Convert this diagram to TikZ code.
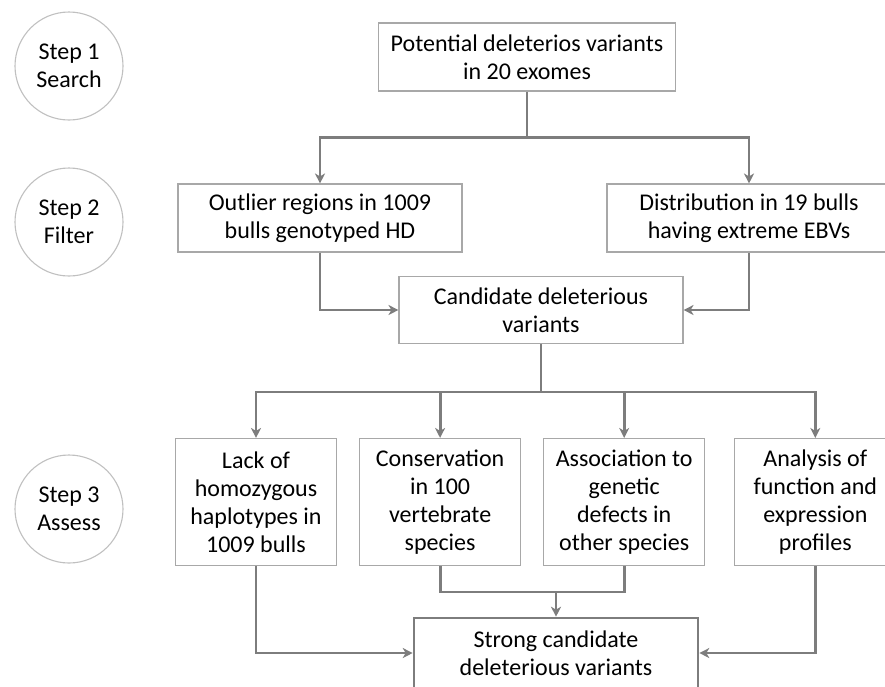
\documentclass[tikz,border=0pt]{standalone}
\usepackage{fontspec}
\setmainfont{Carlito}
\usetikzlibrary{arrows.meta,positioning}
\definecolor{linegray}{HTML}{7D7D7D}
\definecolor{boxgray}{HTML}{A8A8A8}
\definecolor{ringgray}{HTML}{C0C0C0}
\tikzset{
    flowline/.style = {draw=linegray, line width=2.8pt},
    flowarrow/.style = {flowline, -{Stealth[length=10pt, width=10pt, inset=3pt]}},
    stagebox/.style = {draw=boxgray, line width=1.1pt, align=center,
        inner sep=2pt, font=\fontsize{24}{28}\selectfont},
    stepring/.style = {circle, draw=ringgray, line width=1.1pt,
        minimum size=108pt, align=center, font=\fontsize{24}{28}\selectfont}
}

\begin{document}
\begin{tikzpicture}[x=1pt, y=-1pt]
    \useasboundingbox (0,0) rectangle (885,686);

    % steps
    \node[stepring] (step1) at (69,66) {Step 1\\Search};
    \node[stepring] (step2) at (69,222) {Step 2\\Filter};
    \node[stepring] (step3) at (69,509) {Step 3\\Assess};

    % boxes
    \node[stagebox, minimum width=297pt, minimum height=68pt] (search) at (527,57)
        {Potential deleterios variants\\in 20 exomes};
    \node[stagebox, minimum width=284pt, minimum height=68pt] (outlier) at (320,218)
        {Outlier regions in 1009\\bulls genotyped HD};
    \node[stagebox, minimum width=284pt, minimum height=68pt] (distrib) at (749,218)
        {Distribution in 19 bulls\\having extreme EBVs};
    \node[stagebox, minimum width=284pt, minimum height=67pt] (candidate) at (541,310)
        {Candidate deleterious\\variants};
    \node[stagebox, minimum width=161pt, minimum height=127pt] (lack) at (256,502)
        {Lack of\\homozygous\\haplotypes in\\1009 bulls};
    \node[stagebox, minimum width=161pt, minimum height=127pt, right=22pt of lack] (conserv)
        {Conservation\\in 100\\vertebrate\\species};
    \node[stagebox, minimum width=161pt, minimum height=127pt, right=22pt of conserv] (assoc)
        {Association to\\genetic\\defects in\\other species};
    \node[stagebox, minimum width=161pt, minimum height=127pt, right=29pt of assoc] (analysis)
        {Analysis of\\function and\\expression\\profiles};
    \node[stagebox, draw=linegray, line width=2.6pt, minimum width=284pt, minimum height=70pt]
        (strong) at (556,653) {Strong candidate\\deleterious variants};

    % connectors
    \coordinate (split1) at ([yshift=-46pt]search.south);
    \draw[flowline] (search.south) -- (split1);
    \draw[flowarrow] (split1) -| (outlier.north);
    \draw[flowarrow] (split1) -| (distrib.north);
    \draw[flowarrow] (outlier.south) |- (candidate.west);
    \draw[flowarrow] (distrib.south) |- (candidate.east);

    \coordinate (split2) at ([yshift=-48pt]candidate.south);
    \draw[flowline] (candidate.south) -- (split2);
    \foreach \target in {lack, conserv, assoc, analysis}
        \draw[flowarrow] (split2) -| (\target.north);

    \coordinate (merge) at ([yshift=-26pt]conserv.south);
    \draw[flowline] (conserv.south) -- (merge) -| (assoc.south);
    \draw[flowarrow] (merge -| strong.north) -- (strong.north);
    \draw[flowarrow] (lack.south) |- (strong.west);
    \draw[flowarrow] (analysis.south) |- (strong.east);
\end{tikzpicture}
\end{document}
